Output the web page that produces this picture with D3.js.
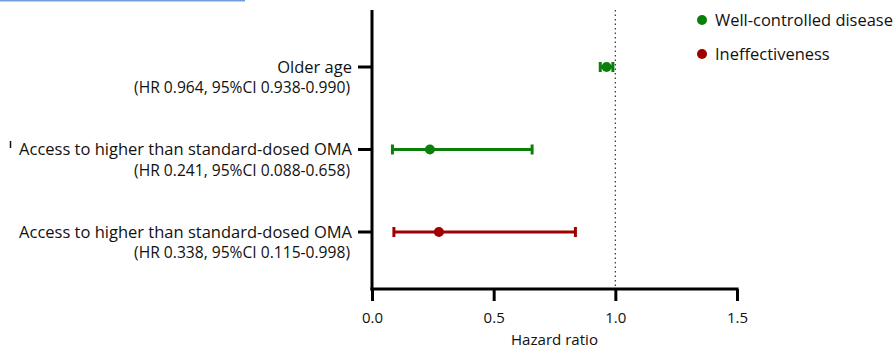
<!DOCTYPE html>
<html><head><meta charset="utf-8">
<script src="https://cdn.jsdelivr.net/npm/d3@7"></script>
<style>body{margin:0;background:#fff;} svg{display:block;font-family:"Open Sans",sans-serif;}</style>
</head><body>
<svg id="c" width="896" height="352"></svg>
<script>
const labels = ["Older age", "Access to higher than standard-dosed OMA", "Access to higher than standard-dosed OMA"];
const sublabels = ["(HR 0.964, 95%CI 0.938-0.990)", "(HR 0.241, 95%CI 0.088-0.658)", "(HR 0.338, 95%CI 0.115-0.998)"];
const hr = [0.964, 0.238, 0.275];
const lower = [0.938, 0.084, 0.090];
const upper = [0.990, 0.658, 0.836];
const outcome = ["Well-controlled disease", "Well-controlled disease", "Ineffectiveness"];
const legendItems = ["Well-controlled disease", "Ineffectiveness"];
const colors = ["#0a800a", "#a00000"];
const xTicks = [0, 0.5, 1.0, 1.5];

const svg = d3.select("#c");
const x = d3.scaleLinear().domain([0, 1.5]).range([372, 737]);
const y = d3.scalePoint().domain(d3.range(labels.length)).range([67, 232]);
const color = d3.scaleOrdinal().domain(legendItems).range(colors);

function fitSize(sel, base, target){
  const n = sel.node(); sel.attr("font-size", base);
  const w = n.getComputedTextLength();
  const s = base*target/w; sel.attr("font-size", s); return s;
}

svg.append("line").attr("x1",0).attr("x2",245).attr("y1",0.5).attr("y2",0.5).attr("stroke","#6f9fd8").attr("stroke-width",2);

svg.append("line").attr("x1",x(1)).attr("x2",x(1)).attr("y1",10).attr("y2",289)
  .attr("stroke","#333").attr("stroke-width",1.2).attr("stroke-dasharray","1.5,3");

const xa = svg.append("g").attr("transform","translate(0,289)")
  .call(d3.axisBottom(x).tickValues(xTicks).tickFormat(d3.format(".1f")).tickSize(12).tickPadding(11));
xa.select(".domain").attr("stroke","#000").attr("stroke-width",3).attr("d",`M${x(0)-1.5},0H${x(1.5)+1.5}`);
xa.selectAll(".tick line").attr("stroke","#000").attr("stroke-width",3);
xa.selectAll(".tick text").attr("font-size",15).attr("fill","#111").attr("font-family","'Open Sans',sans-serif");

const xt = svg.append("text").attr("x",x(0.75)).attr("y",345).attr("text-anchor","middle")
  .attr("fill","#111").text("Hazard ratio");
fitSize(xt, 15, 87);

svg.append("line").attr("x1",x(0)).attr("x2",x(0)).attr("y1",10).attr("y2",290.5).attr("stroke","#000").attr("stroke-width",3);
let labSize = null, subSize = null;
labels.forEach((l,i)=>{
  svg.append("line").attr("x1",x(0)-14).attr("x2",x(0)).attr("y1",y(i)).attr("y2",y(i)).attr("stroke","#000").attr("stroke-width",3);
  const t = svg.append("text").attr("x",352).attr("y",y(i)).attr("dy","0.35em").attr("text-anchor","end")
    .attr("fill","#111").text(l);
  if(i===1) labSize = fitSize(t, 16, 333);
  const s = svg.append("text").attr("x",350).attr("y",y(i)+21).attr("dy","0.35em").attr("text-anchor","end")
    .attr("fill","#111").text(sublabels[i]);
  if(i===1) subSize = fitSize(s, 13, 216);
});
svg.selectAll("text").filter(function(){return labels.includes(this.textContent);}).attr("font-size",labSize);
svg.selectAll("text").filter(function(){return sublabels.includes(this.textContent);}).attr("font-size",subSize);
svg.append("line").attr("x1",10.5).attr("x2",10.5).attr("y1",141).attr("y2",148).attr("stroke","#111").attr("stroke-width",1.5);

const g = svg.append("g");
hr.forEach((v,i)=>{
  const c = color(outcome[i]);
  g.append("line").attr("x1",x(lower[i])).attr("x2",x(upper[i])).attr("y1",y(i)).attr("y2",y(i)).attr("stroke",c).attr("stroke-width",3);
  [lower[i],upper[i]].forEach(e=>{
    g.append("line").attr("x1",x(e)).attr("x2",x(e)).attr("y1",y(i)-5).attr("y2",y(i)+5).attr("stroke",c).attr("stroke-width",3);
  });
  g.append("circle").attr("cx",x(v)).attr("cy",y(i)).attr("r",5).attr("fill",c);
});

let legSize = null;
legendItems.forEach((l,i)=>{
  const ly = 20 + i*34;
  svg.append("circle").attr("cx",702).attr("cy",ly).attr("r",5).attr("fill",color(l));
  const t = svg.append("text").attr("x",715).attr("y",ly).attr("dy","0.35em").attr("fill","#111").text(l);
  if(i===0) legSize = fitSize(t, 15, 178); else t.attr("font-size", legSize);
});
</script>
</body></html>
